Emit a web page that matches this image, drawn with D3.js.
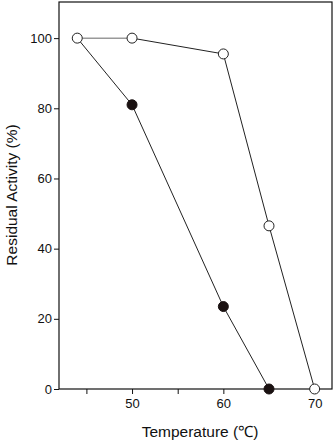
<!DOCTYPE html>
<html>
<head>
<meta charset="utf-8">
<script src="https://cdn.jsdelivr.net/npm/d3@7"></script>
<style>
  body { margin: 0; background: #fff; }
  text { font-family: "Liberation Sans", Arial, sans-serif; }
</style>
</head>
<body>
<script>
const width = 336;
const height = 440;
const margin = {top: 2, left: 59, bottom: 51, right: 4};

// open circles
const openTemp = [44, 50, 60, 65, 70];
const openValue = [100, 100, 95.5, 46.5, 0];
// filled circles (line starts from the shared 44 point)
const filledTemp = [44, 50, 60, 65];
const filledValue = [100, 81, 23.5, 0];

const xTicks = [45, 50, 55, 60, 65, 70];
const xLabels = [50, 60, 70];
const yTicks = [0, 20, 40, 60, 80, 100];

const x = d3.scaleLinear()
  .domain([42, 71.9])
  .range([margin.left, width - margin.right]);

const y = d3.scaleLinear()
  .domain([0, 110.3])
  .range([height - margin.bottom, margin.top]);

const svg = d3.select('body').append('svg')
  .attr('width', width).attr('height', height);

// frame
svg.append('rect')
  .attr('x', margin.left).attr('y', margin.top)
  .attr('width', width - margin.left - margin.right)
  .attr('height', height - margin.top - margin.bottom)
  .attr('fill', 'none').attr('stroke', '#111').attr('stroke-width', 1.2);

const xAxis = g => g
  .attr('transform', `translate(0, ${height - margin.bottom})`)
  .call(d3.axisBottom(x).tickValues(xTicks).tickSize(5).tickPadding(5).tickSizeOuter(0)
    .tickFormat(d => xLabels.includes(d) ? d : ''))
  .call(g => g.select('.domain').remove());

const yAxis = g => g
  .attr('transform', `translate(${margin.left}, 0)`)
  .call(d3.axisLeft(y).tickValues(yTicks).tickSize(5).tickPadding(2))
  .call(g => g.select('.domain').remove());

svg.append('g').call(xAxis);
svg.append('g').call(yAxis);
svg.selectAll('.tick line').attr('stroke', '#111');
svg.selectAll('.tick text').attr('font-size', 13).attr('fill', '#111')
  .style('font-family', '"Liberation Sans", Arial, sans-serif');

const line = d3.line().x(d => x(d[0])).y(d => y(d[1]));
const openPts = openTemp.map((t, i) => [t, openValue[i]]);
const filledPts = filledTemp.map((t, i) => [t, filledValue[i]]);

// first open segment is gray
svg.append('path').datum(openPts.slice(0, 2)).attr('d', line)
  .attr('fill', 'none').attr('stroke', '#999').attr('stroke-width', 1.5);
svg.append('path').datum(openPts.slice(1)).attr('d', line)
  .attr('fill', 'none').attr('stroke', '#222').attr('stroke-width', 1);
svg.append('path').datum(filledPts).attr('d', line)
  .attr('fill', 'none').attr('stroke', '#222').attr('stroke-width', 1);

svg.append('g').selectAll('circle').data(filledPts.slice(1)).enter().append('circle')
  .attr('cx', d => x(d[0])).attr('cy', d => y(d[1])).attr('r', 5)
  .attr('fill', '#1a1111').attr('stroke', '#1a1111');

svg.append('g').selectAll('circle').data(openPts).enter().append('circle')
  .attr('cx', d => x(d[0])).attr('cy', d => y(d[1])).attr('r', 5)
  .attr('fill', '#fff').attr('stroke', '#222').attr('stroke-width', 1);

svg.append('text')
  .attr('x', 200).attr('y', 437)
  .attr('text-anchor', 'middle').attr('font-size', 15.5).attr('fill', '#111')
  .text('Temperature (℃)');

svg.append('text')
  .attr('transform', 'translate(17, 195) rotate(-90)')
  .attr('text-anchor', 'middle').attr('font-size', 15.5).attr('fill', '#111')
  .text('Residual Activity (%)');
</script>
</body>
</html>
